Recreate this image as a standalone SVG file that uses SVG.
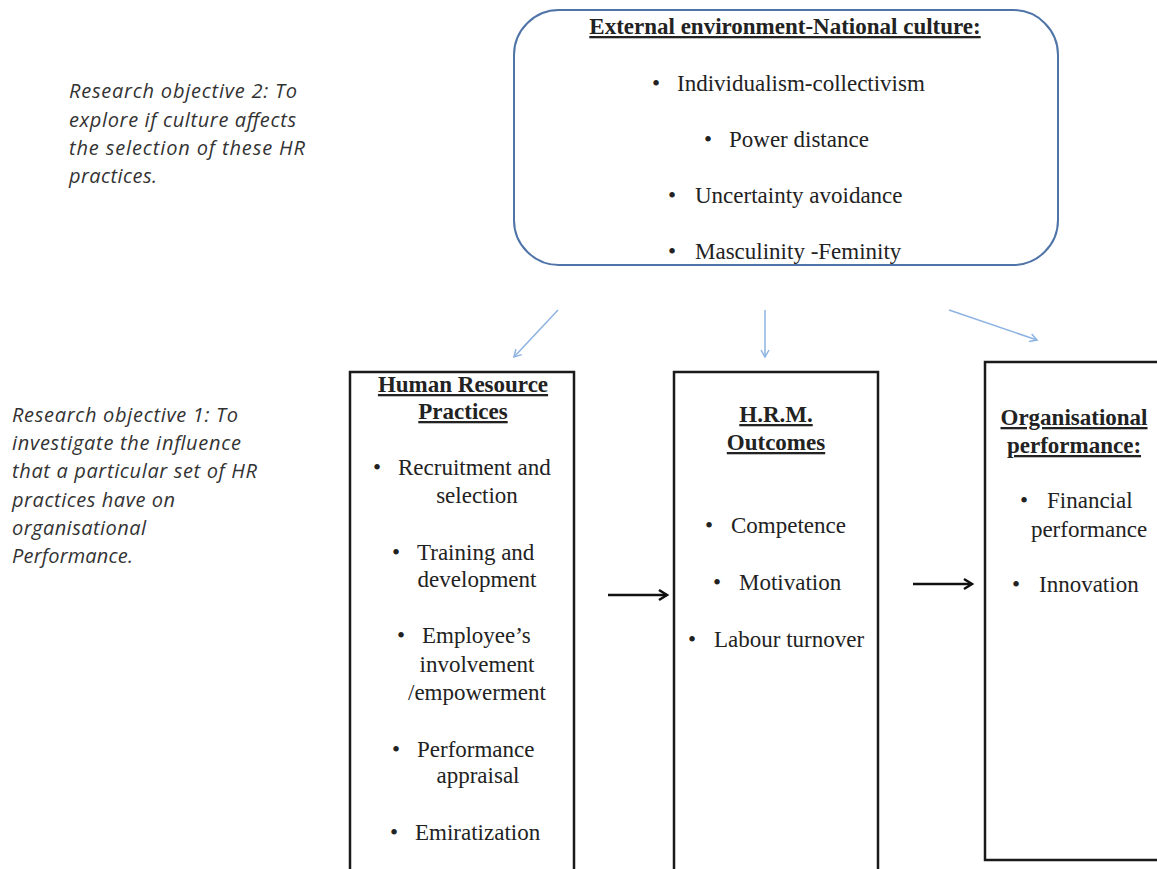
<svg xmlns="http://www.w3.org/2000/svg" width="1157" height="869" viewBox="0 0 1157 869">
  <style>
    .serif { font-family: "Liberation Serif", "Times New Roman", serif; font-size: 23px; fill: #222; }
    .title { font-weight: bold; text-decoration: underline; }
    .mid { text-anchor: middle; }
    .note { font-family: "Open Sans", "Liberation Sans", sans-serif; font-style: italic; font-size: 20px; fill: #333; }
    .box { fill: #fff; stroke: #1a1a1a; stroke-width: 2.5; }
    .blue { stroke: #8db3e2; stroke-width: 1.5; fill: none; }
    .black { stroke: #111; stroke-width: 2.5; fill: none; }
  </style>
  <defs>
    <marker id="blueHead" markerWidth="10" markerHeight="10" refX="8" refY="5" orient="auto" markerUnits="userSpaceOnUse">
      <path d="M1,1 L8,5 L1,9" fill="none" stroke="#8db3e2" stroke-width="1.5"/>
    </marker>
    <marker id="blackHead" markerWidth="14" markerHeight="14" refX="11" refY="7" orient="auto" markerUnits="userSpaceOnUse">
      <path d="M3,2 L11,7 L3,12" fill="none" stroke="#111" stroke-width="2.5"/>
    </marker>
  </defs>

  <rect width="1157" height="869" fill="#fff"/>

  <g id="objective2">
    <text class="note"><tspan x="69" y="98" textLength="228">Research objective 2: To</tspan><tspan x="69" y="127" textLength="227">explore if culture affects</tspan><tspan x="69" y="155" textLength="236">the selection of these HR</tspan><tspan x="69" y="183" textLength="88">practices.</tspan></text>
  </g>

  <g id="objective1">
    <text class="note"><tspan x="12" y="422" textLength="226">Research objective 1: To</tspan><tspan x="12" y="450" textLength="229">investigate the influence</tspan><tspan x="12" y="478" textLength="245">that a particular set of HR</tspan><tspan x="12" y="507" textLength="163">practices have on</tspan><tspan x="12" y="535" textLength="134">organisational</tspan><tspan x="12" y="563" textLength="121">Performance.</tspan></text>
  </g>

  <g id="national-culture">
    <rect x="514" y="10" width="544" height="255" rx="45" ry="45" fill="#fff" stroke="#4f74a8" stroke-width="2"/>
    <text class="serif title mid" x="785" y="34">External environment-National culture:</text>
    <text class="serif" x="652" y="91">•</text>
    <text class="serif" x="677" y="91">Individualism-collectivism</text>
    <text class="serif" x="704" y="147">•</text>
    <text class="serif" x="729" y="147">Power distance</text>
    <text class="serif" x="668" y="203">•</text>
    <text class="serif" x="695" y="203">Uncertainty avoidance</text>
    <text class="serif" x="668" y="259">•</text>
    <text class="serif" x="695" y="259">Masculinity -Feminity</text>
  </g>

  <g id="hr-practices">
    <rect class="box" x="350" y="372" width="224" height="530"/>
    <text class="serif title mid" x="463" y="392">Human Resource</text>
    <text class="serif title mid" x="463" y="419">Practices</text>
    <text class="serif" x="373" y="475">•</text>
    <text class="serif" x="398" y="475">Recruitment and</text>
    <text class="serif mid" x="477" y="503">selection</text>
    <text class="serif" x="392" y="560">•</text>
    <text class="serif" x="417" y="560">Training and</text>
    <text class="serif mid" x="477" y="587">development</text>
    <text class="serif" x="397" y="643">•</text>
    <text class="serif" x="422" y="643">Employee’s</text>
    <text class="serif mid" x="477" y="672">involvement</text>
    <text class="serif mid" x="477" y="700">/empowerment</text>
    <text class="serif" x="392" y="757">•</text>
    <text class="serif" x="417" y="757">Performance</text>
    <text class="serif mid" x="478" y="783">appraisal</text>
    <text class="serif" x="390" y="840">•</text>
    <text class="serif" x="415" y="840">Emiratization</text>
  </g>

  <g id="hrm-outcomes">
    <rect class="box" x="674" y="372" width="204" height="530"/>
    <text class="serif title mid" x="776" y="422">H.R.M.</text>
    <text class="serif title mid" x="776" y="450">Outcomes</text>
    <text class="serif" x="705" y="533">•</text>
    <text class="serif" x="731" y="533">Competence</text>
    <text class="serif" x="713" y="590">•</text>
    <text class="serif" x="739" y="590">Motivation</text>
    <text class="serif" x="688" y="647">•</text>
    <text class="serif" x="714" y="647">Labour turnover</text>
  </g>

  <g id="org-performance">
    <rect class="box" x="985" y="362" width="200" height="498"/>
    <text class="serif title mid" x="1074" y="425">Organisational</text>
    <text class="serif title mid" x="1074" y="453">performance:</text>
    <text class="serif" x="1020" y="508">•</text>
    <text class="serif" x="1047" y="508">Financial</text>
    <text class="serif mid" x="1089" y="537">performance</text>
    <text class="serif" x="1012" y="592">•</text>
    <text class="serif" x="1039" y="592">Innovation</text>
  </g>

  <g id="connectors">
    <line class="blue" x1="558" y1="310" x2="514" y2="357" marker-end="url(#blueHead)"/>
    <line class="blue" x1="765" y1="310" x2="765" y2="357" marker-end="url(#blueHead)"/>
    <line class="blue" x1="949" y1="310" x2="1037" y2="340" marker-end="url(#blueHead)"/>
    <line class="black" x1="608" y1="595" x2="667" y2="595" marker-end="url(#blackHead)"/>
    <line class="black" x1="913" y1="584" x2="972" y2="584" marker-end="url(#blackHead)"/>
  </g>
</svg>
